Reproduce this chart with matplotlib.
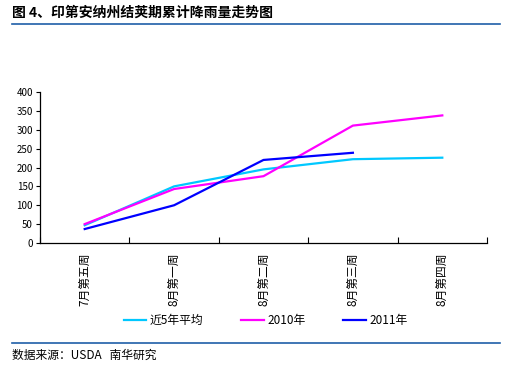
import matplotlib.pyplot as plt
from matplotlib.lines import Line2D

plt.rcParams['font.family'] = ['Noto Sans CJK SC', 'DejaVu Sans']

weeks = ['7月第五周', '8月第一周', '8月第二周', '8月第三周', '8月第四周']
avg5 = [47, 150, 195, 222, 226]
y2010 = [50, 143, 177, 311, 338]
y2011 = [37, 100, 220, 239]

fig = plt.figure(figsize=(5.06, 3.65), dpi=100)

# title and separator lines
fig.text(12 / 506, 1 - 13 / 365, '图 4、印第安纳州结荚期累计降雨量走势图',
         fontsize=10, fontweight='bold', va='center', ha='left')
fig.add_artist(Line2D([12 / 506, 500 / 506], [1 - 24 / 365] * 2,
                      color='#1f5fa8', lw=1.2))
fig.add_artist(Line2D([12 / 506, 500 / 506], [1 - 343 / 365] * 2,
                      color='#1f5fa8', lw=1.2))
fig.text(12 / 506, 1 - 355 / 365, '数据来源：USDA   南华研究',
         fontsize=8.5, va='center', ha='left')

ax = fig.add_axes([40 / 506, 1 - 243 / 365, 447 / 506, 151 / 365])
x = range(len(weeks))
ax.plot(x, avg5, color='#00c8ff', lw=1.6, label='近5年平均')
ax.plot(x, y2010, color='#ff00ff', lw=1.6, label='2010年')
ax.plot(range(len(y2011)), y2011, color='#0000ff', lw=1.6, label='2011年')

ax.set_xlim(-0.5, len(weeks) - 0.5)
ax.set_ylim(0, 400)
ax.set_yticks(range(0, 401, 50))
ax.tick_params(axis='y', labelsize=7, length=3, direction='out', pad=2)
ax.set_xticks([i - 0.5 for i in range(len(weeks) + 1)])
ax.set_xticklabels([])
ax.set_xticks(list(x), minor=True)
ax.set_xticklabels(weeks, minor=True, rotation=90, fontsize=8.5)
ax.tick_params(axis='x', which='minor', length=0, pad=7)
ax.tick_params(axis='x', which='major', length=4, direction='in')
ax.spines['top'].set_visible(False)
ax.spines['right'].set_visible(False)
for s in ('left', 'bottom'):
    ax.spines[s].set_linewidth(0.9)

ax.legend(loc='upper center', bbox_to_anchor=(0.505, -0.40), ncol=3,
          frameon=False, fontsize=8.5, handlelength=1.9, columnspacing=3.2,
          handletextpad=0.3)

fig.savefig('out.png', dpi=100)
